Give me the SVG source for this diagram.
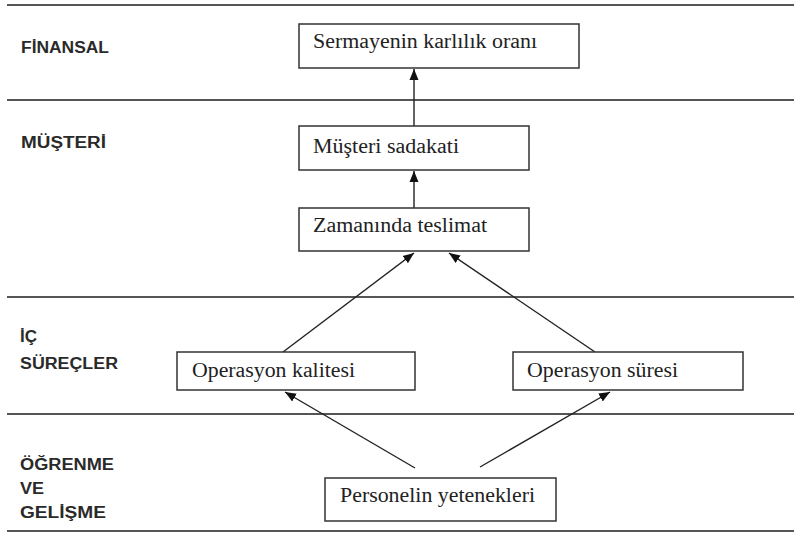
<svg xmlns="http://www.w3.org/2000/svg" width="794" height="534" viewBox="0 0 794 534">
  <style>
    .band { stroke: #555; stroke-width: 2; fill: none; }
    .box { fill: #fff; stroke: #333; stroke-width: 1.5; }
    .lbl { font-family: "Liberation Serif", "Times New Roman", serif; font-size: 20px; fill: #222; }
    .sec { font-family: "Liberation Sans", Arial, sans-serif; font-size: 16px; font-weight: bold; fill: #2a2a2a; }
    .conn { stroke: #222; stroke-width: 1.4; fill: none; marker-end: url(#arr); }
  </style>
  <defs>
    <marker id="arr" markerUnits="userSpaceOnUse" markerWidth="12" markerHeight="10" refX="11" refY="5" orient="auto">
      <path d="M0,0.5 L11,5 L0,9.5 Z" fill="#111"/>
    </marker>
  </defs>
  <rect width="794" height="534" fill="#fff"/>

  <g id="bands">
    <line class="band" x1="7" y1="5" x2="794" y2="5"/>
    <line class="band" x1="7" y1="100" x2="794" y2="100"/>
    <line class="band" x1="7" y1="297" x2="794" y2="297"/>
    <line class="band" x1="7" y1="414" x2="794" y2="414"/>
    <line class="band" x1="7" y1="531" x2="794" y2="531"/>
  </g>

  <g id="section-labels">
    <text class="sec" x="21" y="53" textLength="88" lengthAdjust="spacingAndGlyphs">FİNANSAL</text>
    <text class="sec" x="21" y="148" textLength="85" lengthAdjust="spacingAndGlyphs">MÜŞTERİ</text>
    <text class="sec" x="20" y="342" textLength="17" lengthAdjust="spacingAndGlyphs">İÇ</text>
    <text class="sec" x="20" y="369" textLength="98" lengthAdjust="spacingAndGlyphs">SÜREÇLER</text>
    <text class="sec" x="20" y="470" textLength="94" lengthAdjust="spacingAndGlyphs">ÖĞRENME</text>
    <text class="sec" x="20" y="494" textLength="24" lengthAdjust="spacingAndGlyphs">VE</text>
    <text class="sec" x="20" y="518" textLength="86" lengthAdjust="spacingAndGlyphs">GELİŞME</text>
  </g>

  <g id="connectors">
    <line class="conn" x1="414" y1="126" x2="414" y2="69"/>
    <line class="conn" x1="414" y1="208" x2="414" y2="171"/>
    <line class="conn" x1="283" y1="352" x2="414" y2="253"/>
    <line class="conn" x1="595" y1="352" x2="449" y2="253"/>
    <line class="conn" x1="415" y1="468" x2="285" y2="392"/>
    <line class="conn" x1="480" y1="467" x2="610" y2="392"/>
  </g>

  <g id="node-sermaye">
    <rect class="box" x="299" y="24" width="280" height="44"/>
    <text class="lbl" x="313" y="48" textLength="224" lengthAdjust="spacingAndGlyphs">Sermayenin karlılık oranı</text>
  </g>
  <g id="node-musteri">
    <rect class="box" x="299" y="126" width="230" height="44"/>
    <text class="lbl" x="313" y="153" textLength="146" lengthAdjust="spacingAndGlyphs">Müşteri sadakati</text>
  </g>
  <g id="node-zamaninda">
    <rect class="box" x="299" y="208" width="230" height="43"/>
    <text class="lbl" x="313" y="232" textLength="174" lengthAdjust="spacingAndGlyphs">Zamanında teslimat</text>
  </g>
  <g id="node-kalite">
    <rect class="box" x="177" y="352" width="238" height="38"/>
    <text class="lbl" x="192" y="377" textLength="163" lengthAdjust="spacingAndGlyphs">Operasyon kalitesi</text>
  </g>
  <g id="node-sure">
    <rect class="box" x="513" y="352" width="230" height="38"/>
    <text class="lbl" x="527" y="377" textLength="151" lengthAdjust="spacingAndGlyphs">Operasyon süresi</text>
  </g>
  <g id="node-personel">
    <rect class="box" x="325" y="478" width="231" height="43"/>
    <text class="lbl" x="340" y="502" textLength="195" lengthAdjust="spacingAndGlyphs">Personelin yetenekleri</text>
  </g>
</svg>
